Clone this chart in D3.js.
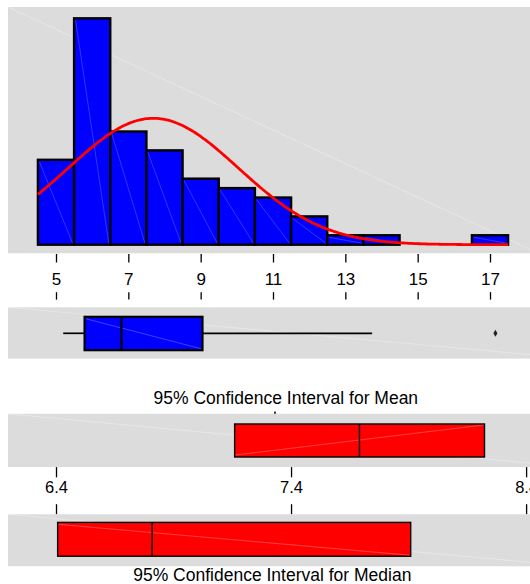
<!DOCTYPE html>
<html>
<head>
<meta charset="utf-8">
<script src="https://cdn.jsdelivr.net/npm/d3@7"></script>
<style>
  html, body { margin: 0; padding: 0; background: #fff; }
  svg { display: block; }
  text { font-family: "Liberation Sans", Arial, sans-serif; fill: #000; }
</style>
</head>
<body>
<svg id="chart" width="530" height="584"></svg>
<script>
// ---- data ----
const binLower = [4.5, 5.5, 6.5, 7.5, 8.5, 9.5, 10.5, 11.5, 12.5, 13.5, 14.5, 15.5, 16.5];
const binUpper = [5.5, 6.5, 7.5, 8.5, 9.5, 10.5, 11.5, 12.5, 13.5, 14.5, 15.5, 16.5, 17.5];
const binCounts = [9, 24, 12, 10, 7, 6, 5, 3, 1, 1, 0, 0, 1];
const sampleN = 79;
const sampleMean = 7.69;
const sampleSd = 2.352;
const boxStats = { whiskerLow: 5.20, q1: 5.79, median: 6.81, q3: 9.05, whiskerHigh: 13.74 };
const outliers = [17.15];
const mainTicks = [5, 7, 9, 11, 13, 15, 17];
const meanCI = [7.16, 7.691, 8.223];     // lower, mean, upper
const medianCI = [6.407, 6.809, 7.909];  // lower, median, upper
const ciTicks = [6.4, 7.4, 8.4];
const meanTitle = "95% Confidence Interval for Mean";
const medianTitle = "95% Confidence Interval for Median";

// ---- drawing ----
const svg = d3.select("#chart");
const PANEL = "#dcdcdc";
const panelLeft = 8, panelRight = 530;
const FONT = '"Liberation Sans", Arial, sans-serif';

const x = d3.scaleLinear().domain([5, 17]).range([56, 490]);
const y = d3.scaleLinear().domain([0, 25.2]).range([244.7, 7]);
const xc = d3.scaleLinear().domain([6.4, 8.4]).range([56, 526.1]);

// faint diagonal sheen across a rectangle
function sheen(g, x0, y0, x1, y1, op) {
  g.append("line")
    .attr("x1", x0).attr("y1", y0).attr("x2", x1).attr("y2", y1)
    .attr("stroke", "#fff").attr("stroke-opacity", op).attr("stroke-width", 1);
}

function panel(y0, y1) {
  svg.append("rect").attr("x", panelLeft).attr("y", y0)
    .attr("width", panelRight - panelLeft).attr("height", y1 - y0).attr("fill", PANEL);
  sheen(svg, panelLeft, y0, panelRight, y1 - 4, 0.3);
}

// Histogram panel
panel(7, 253.3);
const hist = svg.append("g");
binCounts.forEach((c, i) => {
  if (c <= 0) return;
  const x0 = x(binLower[i]), x1 = x(binUpper[i]), y0 = y(c), y1 = y(0);
  hist.append("rect")
    .attr("x", x0).attr("y", y0).attr("width", x1 - x0).attr("height", y1 - y0)
    .attr("fill", "#0000ff").attr("stroke", "#000").attr("stroke-width", 2.4);
  sheen(hist, x0 + 1.5, y0 + 2, x1 - 1.5, y1 - 1.5, 0.2);
});

// Fitted normal curve
const normPts = d3.range(4.5, 17.5001, 0.05).map(v => {
  const z = (v - sampleMean) / sampleSd;
  return [v, sampleN * 1 / (sampleSd * Math.sqrt(2 * Math.PI)) * Math.exp(-0.5 * z * z)];
});
svg.append("path")
  .datum(normPts)
  .attr("d", d3.line().x(d => x(d[0])).y(d => y(d[1])))
  .attr("fill", "none").attr("stroke", "#ff0000").attr("stroke-width", 2.8);

// Shared axis between histogram and boxplot
const axTop = svg.append("g").attr("transform", "translate(0,254)")
  .call(d3.axisBottom(x).tickValues(mainTicks).tickSize(8.5).tickPadding(0).tickFormat(d3.format("d")));
axTop.select(".domain").remove();
axTop.selectAll("line").attr("stroke", "#000").attr("stroke-width", 1.3);
axTop.selectAll("text").attr("y", 30.9).attr("dy", null)
  .style("font-family", FONT).style("font-size", "17px").attr("fill", "#000");

const axBot = svg.append("g").attr("transform", "translate(0,299.6)")
  .call(d3.axisTop(x).tickValues(mainTicks).tickSize(7.4).tickFormat(""));
axBot.select(".domain").remove();
axBot.selectAll("line").attr("stroke", "#000").attr("stroke-width", 1.3);

// Boxplot panel
panel(307.3, 358.6);
const bp = svg.append("g");
const bTop = 316.8, bBot = 350.2, bMid = 333.3;
bp.append("line").attr("x1", x(boxStats.whiskerLow)).attr("x2", x(boxStats.q1))
  .attr("y1", bMid).attr("y2", bMid).attr("stroke", "#000").attr("stroke-width", 1.7);
bp.append("line").attr("x1", x(boxStats.q3)).attr("x2", x(boxStats.whiskerHigh))
  .attr("y1", bMid).attr("y2", bMid).attr("stroke", "#000").attr("stroke-width", 1.7);
bp.append("rect").attr("x", x(boxStats.q1)).attr("y", bTop)
  .attr("width", x(boxStats.q3) - x(boxStats.q1)).attr("height", bBot - bTop)
  .attr("fill", "#0000ff").attr("stroke", "#000").attr("stroke-width", 2.2);
sheen(bp, x(boxStats.q1) + 1.5, bTop + 2, x(boxStats.q3) - 1.5, bBot - 1.5, 0.25);
bp.append("line").attr("x1", x(boxStats.median)).attr("x2", x(boxStats.median))
  .attr("y1", bTop).attr("y2", bBot).attr("stroke", "#000").attr("stroke-width", 2.2);
bp.selectAll("path.out").data(outliers).join("path")
  .attr("class", "out")
  .attr("transform", d => `translate(${x(d)},${bMid})`)
  .attr("d", d3.symbol(d3.symbolDiamond, 14))
  .attr("fill", "#222");

// Confidence interval titles
svg.append("text").attr("x", 285.8).attr("y", 404.4).attr("text-anchor", "middle")
  .style("font-family", FONT).style("font-size", "17.5px").text(meanTitle);
svg.append("line").attr("x1", 275).attr("x2", 275).attr("y1", 411.5).attr("y2", 414)
  .attr("stroke", "#000").attr("stroke-width", 1.5);

// Mean CI panel
panel(413.8, 467.1);
const mTop = 424, mBot = 457;
svg.append("rect").attr("x", xc(meanCI[0])).attr("y", mTop)
  .attr("width", xc(meanCI[2]) - xc(meanCI[0])).attr("height", mBot - mTop)
  .attr("fill", "#ff0000").attr("stroke", "#000").attr("stroke-width", 1.4);
sheen(svg, xc(meanCI[0]) + 1, mBot - 2, xc(meanCI[2]) - 1, mTop + 1, 0.25);
svg.append("line").attr("x1", xc(meanCI[1])).attr("x2", xc(meanCI[1]))
  .attr("y1", mTop).attr("y2", mBot).attr("stroke", "#000").attr("stroke-width", 1.4);

// CI axis
const ciAxTop = svg.append("g").attr("transform", "translate(0,467.1)")
  .call(d3.axisBottom(xc).tickValues(ciTicks).tickSize(10.2).tickPadding(0).tickFormat(d3.format(".1f")));
ciAxTop.select(".domain").remove();
ciAxTop.selectAll("line").attr("stroke", "#000").attr("stroke-width", 1.3);
ciAxTop.selectAll("text").attr("y", 26).attr("dy", null)
  .style("font-family", FONT).style("font-size", "16.5px").attr("fill", "#000");
const ciAxBot = svg.append("g").attr("transform", "translate(0,514.3)")
  .call(d3.axisTop(xc).tickValues(ciTicks).tickSize(10.1).tickFormat(""));
ciAxBot.select(".domain").remove();
ciAxBot.selectAll("line").attr("stroke", "#000").attr("stroke-width", 1.3);

// Median CI panel
panel(514.3, 566.3);
const dTop = 522.4, dBot = 556.2;
svg.append("rect").attr("x", xc(medianCI[0])).attr("y", dTop)
  .attr("width", xc(medianCI[2]) - xc(medianCI[0])).attr("height", dBot - dTop)
  .attr("fill", "#ff0000").attr("stroke", "#000").attr("stroke-width", 1.4);
sheen(svg, xc(medianCI[0]) + 1, dTop + 2, xc(medianCI[2]) - 1, dBot - 1, 0.25);
svg.append("line").attr("x1", xc(medianCI[1])).attr("x2", xc(medianCI[1]))
  .attr("y1", dTop).attr("y2", dBot).attr("stroke", "#000").attr("stroke-width", 1.4);

svg.append("text").attr("x", 272.3).attr("y", 580.5).attr("text-anchor", "middle")
  .style("font-family", FONT).style("font-size", "17.5px").text(medianTitle);
</script>
</body>
</html>
